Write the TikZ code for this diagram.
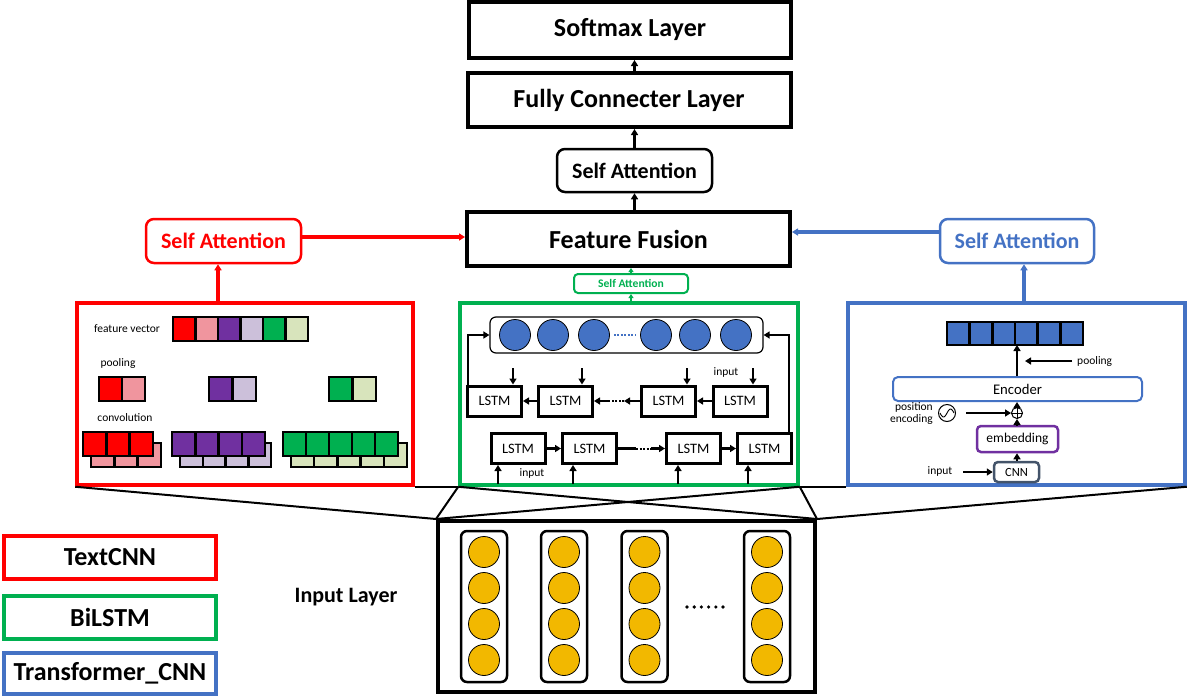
\documentclass[tikz,border=0pt]{standalone}
\usepackage{fontspec}
\setmainfont{Carlito}
\usetikzlibrary{arrows.meta,calc}
\definecolor{cred}{HTML}{FF0000}
\definecolor{cgreen}{HTML}{00B050}
\definecolor{cblue}{HTML}{4472C4}
\definecolor{cpink}{HTML}{F0959E}
\definecolor{cpurple}{HTML}{7030A0}
\definecolor{clpurple}{HTML}{CCC0DA}
\definecolor{clgreen}{HTML}{D8E4BC}
\definecolor{cgold}{HTML}{F2B800}
\definecolor{cslate}{HTML}{44546A}
\newcommand{\cellbar}[6]{%
  \foreach \cc [count=\ii from 0] in {#6} {%
    \filldraw[fill=\cc, draw=black, line width=#5] ({#1+\ii*#3},#2) rectangle ++(#3,#4);}}
\tikzset{
  layer/.style={draw, line width=4pt, inner sep=0pt, font=\bfseries\fontsize{26}{28}\selectfont},
  sabox/.style={draw, line width=2.5pt, rounded corners=8pt, inner sep=0pt, font=\bfseries\fontsize{22}{24}\selectfont},
  panel/.style={draw, line width=3.5pt, inner sep=0pt},
  legend/.style={draw, line width=3.5pt, inner sep=0pt, minimum width=212pt, font=\bfseries\fontsize{26}{28}\selectfont},
  arr/.style={-{Triangle[length=6pt,width=7pt]}, line width=3pt},
  lstm/.style={draw, line width=3pt, inner sep=0pt, minimum width=54pt, minimum height=30pt, fill=white, font=\fontsize{14.4}{16}\selectfont},
  small/.style={inner sep=0pt, font=\fontsize{11.5}{13}\selectfont},
  col/.style={draw, line width=2.5pt, rounded corners=6pt, minimum width=46pt, minimum height=151pt, inner sep=0pt},
  gcirc/.style={circle, draw, line width=0.8pt, fill=cgold, minimum size=31pt, inner sep=0pt},
  bcirc/.style={circle, draw, line width=0.8pt, fill=cblue, minimum size=31pt, inner sep=0pt},
  link/.style={line width=2pt},
}
\begin{document}
\begin{tikzpicture}[x=1pt,y=-1pt]
\useasboundingbox (0,0) rectangle (1191,699);

% ---- top layers
\node[layer, minimum width=322pt, minimum height=56pt] (sm) at (630,30) {Softmax Layer};
\node[layer, minimum width=323pt, minimum height=54pt] (fc) at (629,100) {Fully Connecter Layer};
\node[sabox, minimum width=155pt, minimum height=43pt] (sa) at (634.5,170.5) {Self Attention};
\node[layer, minimum width=323pt, minimum height=54pt] (ff) at (628.5,239) {Feature Fusion};
\node[sabox, draw=cgreen, text=cgreen, line width=2pt, rounded corners=4pt, minimum width=114pt, minimum height=19pt, font=\bfseries\fontsize{11.6}{13}\selectfont] (gsa) at (631,283.5) {Self Attention};
\node[sabox, draw=cred, text=cred, minimum width=155pt, minimum height=44pt] (rsa) at (223.5,241) {Self Attention};
\node[sabox, draw=cblue, text=cblue, minimum width=154pt, minimum height=44pt] (bsa) at (1017,241) {Self Attention};

\draw[arr] (sa.north |- fc.north) -- (sa.north |- sm.south);
\draw[arr] (sa.north) -- (sa.north |- fc.south);
\draw[arr] (sa.south |- ff.north) -- (sa.south);

% ---- panels
\node[panel, draw=cred, minimum width=336pt, minimum height=182pt] (rp) at (245,394) {};
\node[panel, draw=cgreen, minimum width=338pt, minimum height=182pt] (gp) at (629,394) {};
\node[panel, draw=cblue, minimum width=337pt, minimum height=182pt] (bp) at (1016.5,394) {};
\node[draw, line width=4pt, inner sep=0pt, minimum width=377pt, minimum height=171pt] (inp) at (626.5,606.5) {};

% connectors between panels and input layer
\draw[link] (rp.south west) -- (inp.north west);
\draw[link] (rp.south east) -- (gp.south west);
\draw[link] (gp.south west) -- (inp.north east);
\draw[link] (gp.south west) -- (inp.north west);
\draw[link] (gp.south east) -- (inp.north west);
\draw[link] (gp.south east) -- (inp.north east);
\draw[link] (gp.south east) -- (bp.south west);
\draw[link] (bp.south east) -- (inp.north east);

% arrows panels -> attention -> fusion
\draw[arr, draw=cred, line width=3.5pt] ([xshift=-5.5pt]rsa.south |- rp.north) -- ([xshift=-5.5pt]rsa.south);
\draw[arr, draw=cred, line width=3.5pt] ([yshift=4pt]rsa.east) -- ([yshift=4pt]rsa.east -| ff.west);
\draw[arr, draw=cblue, line width=3.5pt] ([xshift=7pt]bsa.south |- bp.north) -- ([xshift=7pt]bsa.south);
\draw[arr, draw=cblue, line width=3.5pt] ([yshift=9pt]bsa.west) -- ([yshift=9pt]bsa.west -| ff.east);
\draw[-{Triangle[length=4pt,width=5pt]}, draw=cgreen, line width=1.5pt] (gsa.south |- gp.north) -- (gsa.south);
\draw[-{Triangle[length=4pt,width=5pt]}, draw=cgreen, line width=1.5pt] (gsa.north) -- (gsa.north |- ff.south);

% ---- TextCNN panel contents
\node[small] (fvt) at (127,329) {feature vector};
\cellbar{173}{317}{22.5}{24}{2.5pt}{cred,cpink,cpurple,clpurple,cgreen,clgreen}
\node[small] (plt) at (118,363) {pooling};
\cellbar{99}{377}{23}{24}{2.5pt}{cred,cpink}
\cellbar{209}{377}{23.5}{24}{2.5pt}{cpurple,clpurple}
\cellbar{329}{377}{23.5}{24}{2.5pt}{cgreen,clgreen}
\node[small] (cvt) at (125,418) {convolution};
\cellbar{91}{443}{23.3}{24}{2.5pt}{cpink,cpink,cpink}
\cellbar{83}{432}{23.3}{24}{2.5pt}{cred,cred,cred}
\cellbar{180}{443}{22.75}{24}{2.5pt}{clpurple,clpurple,clpurple,clpurple}
\cellbar{172}{432}{23.25}{24}{2.5pt}{cpurple,cpurple,cpurple,cpurple}
\cellbar{291}{443}{23.2}{24}{2.5pt}{clgreen,clgreen,clgreen,clgreen,clgreen}
\cellbar{283}{432}{23}{24}{2.5pt}{cgreen,cgreen,cgreen,cgreen,cgreen}

% ---- BiLSTM panel contents
\node[draw, line width=1.2pt, rounded corners=6pt, minimum width=273pt, minimum height=36pt, inner sep=0pt] (cont) at (626.5,335) {};
\foreach \xx/\nm in {515/c1,553/c2,594/c3,656/c4,695/c5,736/c6}
  \node[bcirc] (\nm) at (\xx,335) {};
\draw[draw=cblue, line width=1.5pt, dash pattern=on 2pt off 1.5pt] ($(c3.east)+(4,0)$) -- ($(c4.west)+(-4,0)$);

\node[lstm] (U1) at (494.5,401) {LSTM};
\node[lstm] (U2) at (565.5,401) {LSTM};
\node[lstm] (U3) at (668.5,401) {LSTM};
\node[lstm] (U4) at (740,401) {LSTM};
\node[lstm] (L1) at (518,448.5) {LSTM};
\node[lstm] (L2) at (589.5,448.5) {LSTM};
\node[lstm] (L3) at (693.5,448.5) {LSTM};
\node[lstm] (L4) at (764.5,448.5) {LSTM};

\draw[arr, line width=2.5pt] (U4.west) -- (U3.east);
\draw[arr, line width=2.5pt] (U2.west) -- (U1.east);
\draw[arr, line width=2.5pt] (U3.west) -- ++(-16,0);
\draw[line width=2pt, dash pattern=on 2pt off 1.5pt] ($(U3.west)+(-16,0)$) -- ($(U2.east)+(15,0)$);
\draw[arr, line width=2.5pt] ($(U2.east)+(15,0)$) -- (U2.east);
\draw[arr, line width=2.5pt] (L1.east) -- (L2.west);
\draw[arr, line width=2.5pt] (L3.east) -- (L4.west);
\draw[line width=2.5pt] (L2.east) -- ++(18,0);
\draw[line width=2pt, dash pattern=on 2pt off 1.5pt] ($(L2.east)+(18,0)$) -- ($(L3.west)+(-14,0)$);
\draw[arr, line width=2.5pt] ($(L3.west)+(-14,0)$) -- (L3.west);

\foreach \xx/\nm in {513/U1,582/U2,687/U3,753/U4}
  \draw[arr, line width=2.5pt] (\xx,368) -- (\nm.north -| {(\xx,0)});
\foreach \xx/\nm in {498/L1,573/L2,678/L3,748/L4}
  \draw[arr, line width=2.5pt] (\xx,484) -- (\nm.south -| {(\xx,0)});
\node[small] (in1) at (726,372) {input};
\node[small] (in2) at (532,473) {input};

\draw[arr, line width=2.5pt] ($(U1.north west)+(2,0)$) |- (cont.west);
\draw[arr, line width=2.5pt] ($(L4.north east)+(-4,0)$) |- (cont.east);

% ---- Transformer_CNN panel contents
\cellbar{947}{322}{22.67}{23}{2.5pt}{cblue,cblue,cblue,cblue,cblue,cblue}
\coordinate (barb) at (1017,345);
\node[draw=cblue, line width=2pt, rounded corners=5pt, minimum width=249pt, minimum height=24pt, inner sep=0pt, font=\fontsize{14.7}{16}\selectfont] (enc) at (1017.5,389) {Encoder};
\draw[arr, line width=2.5pt] (enc.north -| barb) -- (barb);
\coordinate (pl0) at (1072,361);
\draw[arr, line width=2.5pt] (pl0) -- (1025,361);
\node[small, anchor=west] (plt2) at (1077,361) {pooling};
\node[circle, draw, line width=1pt, minimum size=11pt, inner sep=0pt] (plus) at (1017,413) {};
\draw[line width=0.8pt] (plus.north) -- (plus.south) (plus.west) -- (plus.east);
\draw[arr, line width=2.5pt] (plus.north) -- (plus.north |- enc.south);
\node[circle, draw, line width=1pt, minimum size=17pt, inner sep=0pt] (sine) at (947,413) {};
\draw[line width=0.9pt] plot[domain=-7:7, samples=30] ({947+\x}, {413-4*sin(\x*180/7)});
\draw[arr, line width=2.5pt] (966,413) -- (plus.west);
\node[small, align=right, anchor=east, font=\fontsize{11.5}{12.5}\selectfont] (pet) at (933,413.5) {position\\encoding};
\node[draw=cpurple, line width=2.5pt, rounded corners=4pt, minimum width=81pt, minimum height=26pt, inner sep=0pt, font=\fontsize{13.5}{15}\selectfont] (emb) at (1017.5,439) {embedding};
\draw[arr, line width=2.5pt] (emb.north -| plus) -- (plus.south);
\node[draw=cslate, line width=2.5pt, rounded corners=4pt, minimum width=45pt, minimum height=20pt, inner sep=0pt, font=\fontsize{12.5}{14}\selectfont] (cnn) at (1016.5,472) {CNN};
\draw[arr, line width=2.5pt] (cnn.north -| plus) -- (emb.south -| plus);
\node[small] (in3) at (940,471) {input};
\draw[arr, line width=2.5pt] (963,472) -- (cnn.west);

% ---- input layer
\foreach \xx [count=\k] in {484,564,644.5,767} {
  \node[col] (col\k) at (\xx,606.5) {};
  \foreach \yy [count=\j] in {552,588,624,660}
    \node[gcirc] (g\k\j) at (\xx,\yy) {};
}
\foreach \xx in {687,694.2,701.4,708.6,715.8,723}
  \fill (\xx,607) circle (1.8pt);
\node[inner sep=0pt, font=\bfseries\fontsize{22}{24}\selectfont] (ilt) at (346,597) {Input Layer};

% ---- legend
\node[legend, draw=cred, minimum height=43pt] (lg1) at (110,557.5) {TextCNN};
\node[legend, draw=cgreen, minimum height=43pt] (lg2) at (110,617.5) {BiLSTM};
\node[legend, draw=cblue, minimum height=41pt] (lg3) at (110,673.5) {Transformer\_CNN};
\end{tikzpicture}
\end{document}
